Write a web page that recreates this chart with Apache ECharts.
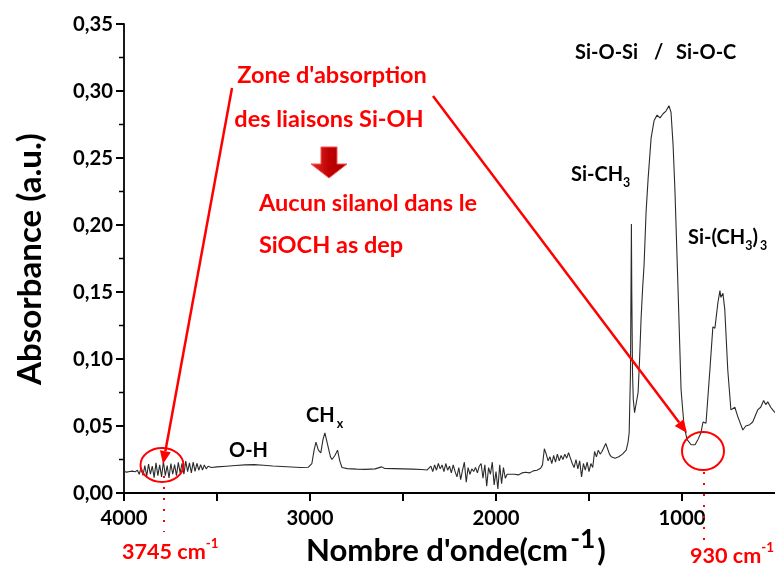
<!DOCTYPE html>
<html>
<head>
<meta charset="utf-8">
<script src="https://cdn.jsdelivr.net/npm/echarts@6/dist/echarts.min.js"></script>
<style>
  html, body { margin: 0; padding: 0; background: #fff; }
  #chart { width: 775px; height: 571px; }
</style>
</head>
<body>
<div id="chart"></div>
<script>
  // spectre FTIR (nombre d'onde en cm-1, absorbance)
  const wavenumber = [
    4000, 3985, 3970, 3955, 3940, 3928, 3918, 3908, 3898, 3888, 3878, 3868, 3858, 3848, 3838, 3828,
    3818, 3808, 3798, 3788, 3778, 3768, 3758, 3748, 3738, 3728, 3718, 3708, 3698, 3688, 3678, 3668,
    3658, 3648, 3638, 3628, 3618, 3608, 3598, 3588, 3578, 3568, 3558, 3548, 3530, 3500, 3450, 3400,
    3350, 3300, 3250, 3200, 3150, 3100, 3050, 3010, 2990, 2978, 2968, 2955, 2942, 2930, 2920, 2905,
    2890, 2882, 2866, 2852, 2840, 2828, 2800, 2750, 2700, 2650, 2615, 2600, 2550, 2500, 2450, 2400,
    2370, 2360, 2350, 2340, 2330, 2320, 2310, 2300, 2290, 2280, 2270, 2260, 2250, 2240, 2230, 2220,
    2210, 2200, 2190, 2180, 2170, 2160, 2150, 2140, 2130, 2120, 2110, 2100, 2090, 2080, 2070, 2060,
    2050, 2040, 2030, 2020, 2010, 2000, 1990, 1980, 1970, 1960, 1950, 1940, 1930, 1900, 1880, 1860,
    1840, 1820, 1800, 1780, 1760, 1750, 1740, 1730, 1720, 1710, 1700, 1690, 1680, 1670, 1660, 1650,
    1640, 1630, 1620, 1610, 1600, 1590, 1580, 1570, 1560, 1550, 1540, 1530, 1520, 1510, 1500, 1490,
    1480, 1470, 1460, 1450, 1440, 1430, 1420, 1410, 1400, 1390, 1380, 1360, 1340, 1320, 1300, 1290,
    1284, 1277, 1272, 1270, 1266, 1262, 1255, 1245, 1236, 1228, 1220, 1212, 1204, 1193, 1182, 1166,
    1150, 1134, 1118, 1102, 1086, 1070, 1059, 1048, 1038, 1021, 1005, 989, 973, 951, 930, 914,
    898, 887, 871, 850, 834, 823, 807, 796, 791, 780, 770, 754, 737, 727, 716, 700,
    673, 657, 636, 620, 593, 577, 561, 550, 539, 523, 512, 500
  ];
  const absorbance = [
    0.0160, 0.0156, 0.0160, 0.0163, 0.0158, 0.0170, 0.0140, 0.0190, 0.0132, 0.0205, 0.0125, 0.0215, 0.0140, 0.0200, 0.0115, 0.0225,
    0.0130, 0.0210, 0.0120, 0.0235, 0.0130, 0.0205, 0.0112, 0.0220, 0.0140, 0.0212, 0.0130, 0.0228, 0.0150, 0.0222, 0.0140, 0.0238,
    0.0160, 0.0225, 0.0150, 0.0230, 0.0162, 0.0222, 0.0170, 0.0212, 0.0172, 0.0210, 0.0180, 0.0200, 0.0190, 0.0195, 0.0200, 0.0205,
    0.0210, 0.0212, 0.0207, 0.0202, 0.0198, 0.0194, 0.0190, 0.0192, 0.0220, 0.0320, 0.0380, 0.0320, 0.0300, 0.0400, 0.0448, 0.0360,
    0.0270, 0.0250, 0.0280, 0.0320, 0.0240, 0.0190, 0.0182, 0.0178, 0.0176, 0.0180, 0.0195, 0.0184, 0.0182, 0.0180, 0.0178, 0.0175,
    0.0172, 0.0180, 0.0200, 0.0160, 0.0210, 0.0170, 0.0220, 0.0180, 0.0210, 0.0160, 0.0220, 0.0170, 0.0200, 0.0150, 0.0210, 0.0160,
    0.0120, 0.0190, 0.0100, 0.0170, 0.0230, 0.0080, 0.0190, 0.0140, 0.0180, 0.0160, 0.0190, 0.0150, 0.0200, 0.0220, 0.0110, 0.0210,
    0.0050, 0.0190, 0.0140, 0.0230, 0.0060, 0.0160, 0.0030, 0.0210, 0.0070, 0.0190, 0.0110, 0.0140, 0.0130, 0.0140, 0.0135, 0.0150,
    0.0155, 0.0150, 0.0165, 0.0170, 0.0185, 0.0210, 0.0330, 0.0290, 0.0240, 0.0270, 0.0220, 0.0280, 0.0230, 0.0290, 0.0240, 0.0280,
    0.0250, 0.0290, 0.0260, 0.0300, 0.0260, 0.0220, 0.0190, 0.0250, 0.0180, 0.0240, 0.0120, 0.0220, 0.0170, 0.0230, 0.0160, 0.0220,
    0.0190, 0.0310, 0.0270, 0.0320, 0.0290, 0.0310, 0.0320, 0.0370, 0.0330, 0.0290, 0.0270, 0.0260, 0.0270, 0.0290, 0.0320, 0.0380,
    0.0450, 0.0900, 0.2007, 0.1500, 0.0900, 0.0700, 0.0600, 0.0597, 0.0750, 0.1000, 0.1300, 0.1520, 0.1700, 0.2100, 0.2350, 0.2650,
    0.2780, 0.2820, 0.2800, 0.2830, 0.2850, 0.2890, 0.2840, 0.2600, 0.2260, 0.1510, 0.0770, 0.0500, 0.0400, 0.0360, 0.0360, 0.0400,
    0.0450, 0.0530, 0.0520, 0.0920, 0.1240, 0.1230, 0.1420, 0.1510, 0.1460, 0.1490, 0.1370, 0.0920, 0.0620, 0.0630, 0.0640, 0.0570,
    0.0470, 0.0500, 0.0510, 0.0530, 0.0620, 0.0640, 0.0690, 0.0660, 0.0680, 0.0640, 0.0620, 0.0600
  ];
  const xLabelValues = [4000, 3000, 2000, 1000];
  const xTickValues = [4000, 3500, 3000, 2500, 2000, 1500, 1000];
  const yTickValues = [0, 0.05, 0.10, 0.15, 0.20, 0.25, 0.30, 0.35];
  const yMinorValues = [0.025, 0.075, 0.125, 0.175, 0.225, 0.275, 0.325];

  const FONT = 'Lato, "Open Sans", sans-serif';
  const RED = '#ff0000';

  const ctx = document.createElement('canvas').getContext('2d');
  function textWidth(text, size, weight) {
    ctx.font = weight + ' ' + size + 'px ' + FONT;
    return ctx.measureText(text).width;
  }
  // taille de police pour que le texte occupe la largeur voulue
  function fitSize(text, width, weight) {
    return Math.round(width / textWidth(text, 100, weight) * 1000) / 10;
  }

  // texte avec indices / exposants, morceaux posés les uns après les autres
  function chemLabel(x, y, parts, size, color, weight) {
    const items = [];
    let cx = x;
    parts.forEach(function(p) {
      const txt = p[0];
      const kind = p[1];
      let fs = size;
      let dy = 0;
      if (kind === 'sub') { fs = size * 0.62; dy = size * 0.42; }
      if (kind === 'sup') { fs = size * (p[2] || 0.62); dy = -size * 0.38; }
      items.push({
        type: 'text', x: cx, y: y + dy, z: 100,
        style: { text: txt, fill: color, font: weight + ' ' + fs + 'px ' + FONT, align: 'left', verticalAlign: 'middle' }
      });
      cx += textWidth(txt, fs, weight) + (p[3] || 0);
    });
    return items;
  }

  function arrowLine(x1, y1, x2, y2) {
    const ang = Math.atan2(y2 - y1, x2 - x1);
    const len = 13, half = 5.5;
    const bx = x2 - len * Math.cos(ang), by = y2 - len * Math.sin(ang);
    const px = -Math.sin(ang) * half, py = Math.cos(ang) * half;
    return [
      { type: 'line', z: 100, shape: { x1: x1, y1: y1, x2: bx, y2: by }, style: { stroke: RED, lineWidth: 2.5 } },
      { type: 'polygon', z: 100, shape: { points: [[x2, y2], [bx + px, by + py], [bx - px, by - py]] }, style: { fill: RED } }
    ];
  }

  // graduations : série custom, placée par les échelles des axes (api.coord)
  function tickSeries(values, dir, len, width) {
    return {
      type: 'custom',
      silent: true,
      clip: false,
      z: 5,
      data: values,
      renderItem: function(params, api) {
        const v = api.value(0);
        const p = dir === 'x' ? api.coord([v, 0]) : api.coord([4000, v]);
        const shape = dir === 'x'
          ? { x1: p[0], y1: p[1], x2: p[0], y2: p[1] + len }
          : { x1: p[0] - len, y1: p[1], x2: p[0], y2: p[1] };
        return { type: 'line', shape: shape, style: { stroke: '#000', lineWidth: width } };
      },
      encode: dir === 'x' ? { x: 0 } : { y: 0 }
    };
  }

  const chart = echarts.init(document.getElementById('chart'), null, { renderer: 'canvas' });

  const redSize = fitSize('Aucun silanol dans le', 218, 'bold');
  const blackSize = fitSize('Si-O-Si', 63, 'bold');
  const ySize = fitSize('Absorbance (a.u.)', 252, 'bold');
  const xSize = fitSize('Nombre d\'onde(cm', 262, 'bold');
  const waveSize = fitSize('3745 cm', 84, 'bold');
  const tickSize = fitSize('4000', 47, 'bold');

  let graphics = [
    { type: 'text', x: 30, y: 259, rotation: Math.PI / 2, z: 100,
      style: { text: 'Absorbance (a.u.)', fill: '#000', font: 'bold ' + ySize + 'px ' + FONT, align: 'center', verticalAlign: 'middle' } },
    // zone annotée
    { type: 'text', x: 332, y: 75, z: 100, style: { text: 'Zone d\'absorption', fill: RED, font: 'bold ' + redSize + 'px ' + FONT, align: 'center', verticalAlign: 'middle' } },
    { type: 'text', x: 329, y: 119, z: 100, style: { text: 'des liaisons Si-OH', fill: RED, font: 'bold ' + redSize + 'px ' + FONT, align: 'center', verticalAlign: 'middle' } },
    { type: 'text', x: 259, y: 203, z: 100, style: { text: 'Aucun silanol dans le', fill: RED, font: 'bold ' + redSize + 'px ' + FONT, align: 'left', verticalAlign: 'middle' } },
    { type: 'text', x: 259, y: 245, z: 100, style: { text: 'SiOCH as dep', fill: RED, font: 'bold ' + redSize + 'px ' + FONT, align: 'left', verticalAlign: 'middle' } },
    // flèche pleine
    { type: 'polygon', z: 100,
      shape: { points: [[321, 147], [337, 147], [337, 164], [347, 164], [329, 178], [311, 164], [321, 164]] },
      style: {
        fill: new echarts.graphic.LinearGradient(0, 0, 1, 0, [{ offset: 0, color: '#e03030' }, { offset: 0.5, color: '#c00000' }, { offset: 1, color: '#a00000' }]),
        stroke: '#ff5050', lineWidth: 1
      } },
    { type: 'ellipse', z: 100, shape: { cx: 162, cy: 465, rx: 21.5, ry: 17 }, style: { fill: 'none', stroke: RED, lineWidth: 2 } },
    { type: 'ellipse', z: 100, shape: { cx: 703, cy: 451, rx: 21, ry: 19 }, style: { fill: 'none', stroke: RED, lineWidth: 2 } },
    { type: 'line', z: 100, shape: { x1: 164, y1: 476, x2: 164, y2: 532 }, style: { stroke: RED, lineWidth: 2, lineDash: [2, 9] } },
    { type: 'line', z: 100, shape: { x1: 704, y1: 472, x2: 704, y2: 540 }, style: { stroke: RED, lineWidth: 2, lineDash: [2, 9] } }
  ];
  graphics = graphics
    .concat(arrowLine(232, 88, 163, 464))
    .concat(arrowLine(433, 96, 687, 433))
    .concat(chemLabel(122, 552, [['3745 cm', 'n'], ['-1', 'sup']], waveSize, RED, 'bold'))
    .concat(chemLabel(690, 556, [['930 cm', 'n'], ['-1', 'sup']], waveSize, RED, 'bold'))
    .concat(chemLabel(306, 551, [['Nombre d\'onde(cm', 'n', 1, 2], ['-1', 'sup', 0.85, 2], [')', 'n']], xSize, '#000', 'bold'))
    .concat(chemLabel(229, 451, [['O-H', 'n']], blackSize, '#000', 'bold'))
    .concat(chemLabel(306, 416, [['CH', 'n', 1, 2], ['x', 'sub']], blackSize, '#000', 'bold'))
    .concat(chemLabel(571, 175, [['Si-CH', 'n'], ['3', 'sub']], blackSize, '#000', 'bold'))
    .concat(chemLabel(688, 238, [['Si-(CH', 'n'], ['3', 'sub'], [')', 'n', 1, 2], ['3', 'sub']], blackSize, '#000', 'bold'))
    .concat(chemLabel(575, 53, [['Si-O-Si', 'n']], blackSize, '#000', 'bold'))
    .concat(chemLabel(654, 53, [['/', 'n']], blackSize, '#000', 'bold'))
    .concat(chemLabel(676, 53, [['Si-O-C', 'n']], blackSize, '#000', 'bold'));

  const option = {
    animation: false,
    backgroundColor: '#fff',
    grid: { left: 124, right: 0, top: 24, bottom: 78, outerBoundsMode: 'none' },
    xAxis: {
      type: 'value',
      inverse: true,
      min: 500,
      max: 4000,
      interval: 500,
      axisLine: { show: true, lineStyle: { color: '#000', width: 1.8 } },
      axisTick: { show: false },
      axisLabel: {
        margin: 15,
        color: '#000',
        fontSize: tickSize,
        fontWeight: 'bold',
        fontFamily: FONT,
        formatter: function(v) { return xLabelValues.indexOf(v) >= 0 ? String(v) : ''; }
      },
      splitLine: { show: false }
    },
    yAxis: {
      type: 'value',
      min: 0,
      max: 0.35,
      interval: 0.05,
      axisLine: { show: true, lineStyle: { color: '#000', width: 1.8 } },
      axisTick: { show: false },
      axisLabel: {
        margin: 11,
        color: '#000',
        fontSize: tickSize,
        fontWeight: 'bold',
        fontFamily: FONT,
        formatter: function(v) {
          const t = yTickValues.find(function(s) { return Math.abs(s - v) < 1e-9; });
          return t === undefined ? '' : t.toFixed(2).replace('.', ',');
        }
      },
      splitLine: { show: false }
    },
    series: [
      {
        type: 'line',
        data: wavenumber.map(function(w, i) { return [w, absorbance[i]]; }),
        showSymbol: false,
        lineStyle: { color: '#2b2b2b', width: 1.1 },
        clip: true
      },
      tickSeries(xTickValues, 'x', 8, 2),
      tickSeries(yTickValues, 'y', 8, 2),
      tickSeries(yMinorValues, 'y', 5, 1.5)
    ],
    graphic: { elements: graphics }
  };
  chart.setOption(option);
</script>
</body>
</html>
